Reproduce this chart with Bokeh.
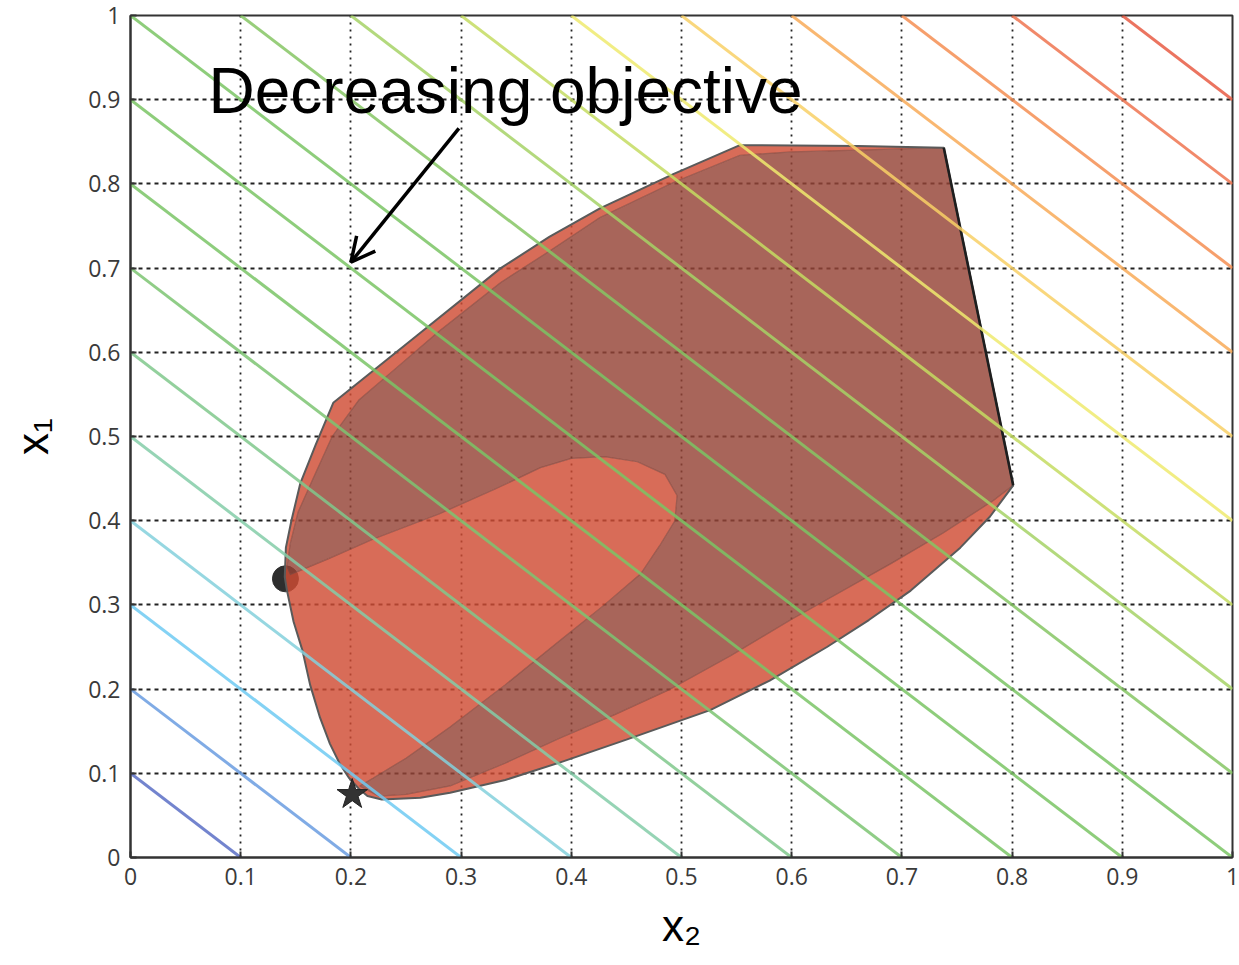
from bokeh.plotting import figure
from bokeh.models import Range1d, FixedTicker, Arrow, OpenHead
from bokeh.core.properties import value
from bokeh.embed import file_html
from bokeh.resources import INLINE

# ---- data ----
tick_values = [0.0, 0.1, 0.2, 0.3, 0.4, 0.5, 0.6, 0.7, 0.8, 0.9, 1.0]
tick_labels = ["0", "0.1", "0.2", "0.3", "0.4", "0.5", "0.6", "0.7", "0.8", "0.9", "1"]
x_label = "x₂"
y_label = "x₁"

# objective contour levels (x1 + x2 = c) and their colours
levels = [0.1, 0.2, 0.3, 0.4, 0.5, 0.6, 0.7, 0.8, 0.9, 1.0,
          1.1, 1.2, 1.3, 1.4, 1.5, 1.6, 1.7, 1.8, 1.9]
level_colors = ["#5a6ec6", "#6a9ce0", "#6ecaf2", "#84d0dc", "#84cca8", "#80c88c",
                "#7cc472", "#7ac466", "#7ac464", "#7ac464", "#86c664", "#a6d266",
                "#c4dc62", "#eeea6e", "#f8d066", "#f8aa58", "#f58e52", "#ef7450",
                "#e85c44"]

# outer feasible-region boundary (x2, x1), from optimum point going up & round
upper_outer_x = [0.140, 0.141, 0.146, 0.154, 0.168, 0.184, 0.260, 0.336, 0.380, 0.426, 0.493, 0.553, 0.660, 0.738]
upper_outer_y = [0.333, 0.368, 0.400, 0.444, 0.490, 0.540, 0.620, 0.700, 0.737, 0.771, 0.812, 0.846, 0.845, 0.843]
corner_x = [0.801]
corner_y = [0.442]
lower_outer_x = [0.780, 0.753, 0.708, 0.670, 0.632, 0.580, 0.526, 0.450, 0.390, 0.340, 0.290, 0.263, 0.228, 0.215, 0.207]
lower_outer_y = [0.405, 0.368, 0.317, 0.282, 0.250, 0.210, 0.175, 0.140, 0.113, 0.092, 0.077, 0.071, 0.069, 0.073, 0.082]
left_outer_x = [0.198, 0.190, 0.181, 0.172, 0.163, 0.156, 0.148, 0.142]
left_outer_y = [0.095, 0.111, 0.135, 0.166, 0.205, 0.246, 0.280, 0.317]

# darker inner region boundary
dark_upper_x = [0.142, 0.145, 0.152, 0.165, 0.183, 0.207, 0.240, 0.280, 0.336, 0.380, 0.426, 0.493, 0.553, 0.600, 0.660, 0.738, 0.801]
dark_upper_y = [0.345, 0.373, 0.410, 0.448, 0.500, 0.543, 0.580, 0.625, 0.683, 0.720, 0.760, 0.802, 0.834, 0.838, 0.840, 0.843, 0.442]
dark_lower_x = [0.783, 0.737, 0.690, 0.645, 0.600, 0.545, 0.490, 0.440, 0.390, 0.340, 0.290, 0.250, 0.225, 0.208]
dark_lower_y = [0.424, 0.385, 0.349, 0.316, 0.283, 0.240, 0.200, 0.170, 0.142, 0.112, 0.085, 0.075, 0.073, 0.085]
# inner (lighter) lobe boundary, from star back up to optimum point
lobe_x = [0.220, 0.250, 0.290, 0.340, 0.390, 0.430, 0.463, 0.480, 0.494, 0.496, 0.485, 0.460, 0.430, 0.400, 0.372, 0.330, 0.280, 0.220, 0.180, 0.145]
lobe_y = [0.094, 0.118, 0.155, 0.205, 0.258, 0.300, 0.337, 0.370, 0.400, 0.430, 0.455, 0.470, 0.476, 0.474, 0.463, 0.437, 0.408, 0.378, 0.355, 0.336]

opt_x = [0.1406]
opt_y = [0.331]
star_x = [0.2012]
star_y = [0.0748]

note_text = ["Decreasing objective"]
note_x = [0.0708]
note_y = [0.910]
arrow_start = (0.298, 0.866)
arrow_end = (0.200, 0.707)

# ---- figure ----
p = figure(width=1239, height=965, output_backend="svg", toolbar_location=None,
           x_range=Range1d(0, 1), y_range=Range1d(0, 1),
           min_border_left=130, min_border_right=7, min_border_top=15, min_border_bottom=108)
p.background_fill_color = "white"
p.border_fill_color = "white"
p.outline_line_color = "#333333"
p.outline_line_width = 2

for ax in (p.xaxis[0], p.yaxis[0]):
    ax.ticker = FixedTicker(ticks=tick_values)
    ax.major_label_overrides = {t: l for t, l in zip(tick_values, tick_labels)}
    ax.minor_tick_line_color = None
    ax.major_tick_in = 6
    ax.major_tick_out = 0
    ax.major_tick_line_color = "#333333"
    ax.major_tick_line_width = 2
    ax.axis_line_color = "#333333"
    ax.axis_line_width = 2
    ax.major_label_text_font = "Open Sans"
    ax.major_label_text_font_size = "23px"
    ax.major_label_text_color = "#3a3a3a"
    ax.major_label_standoff = 10
    ax.axis_label_text_font = "Liberation Sans"
    ax.axis_label_text_font_size = "44px"
    ax.axis_label_text_font_style = "normal"
    ax.axis_label_text_color = "black"

p.xaxis[0].axis_label = x_label
p.yaxis[0].axis_label = y_label
p.xaxis[0].axis_label_standoff = 13
p.yaxis[0].axis_label_standoff = 28

p.xgrid.ticker = FixedTicker(ticks=tick_values)
p.ygrid.ticker = FixedTicker(ticks=tick_values)
p.xgrid.grid_line_color = "#222222"
p.ygrid.grid_line_color = "#222222"
p.xgrid.grid_line_dash = "2 5"
p.ygrid.grid_line_dash = "4 4"
p.xgrid.grid_line_width = 1.8
p.ygrid.grid_line_width = 1.8

# optimum circle (partly under the region)
p.scatter(opt_x, opt_y, marker="circle", size=26, fill_color="#2e2e2e", line_color="#2e2e2e")

# regions
a = 0.82
outer_x = upper_outer_x + corner_x + lower_outer_x + left_outer_x
outer_y = upper_outer_y + corner_y + lower_outer_y + left_outer_y
dark_x = dark_upper_x + dark_lower_x + lobe_x
dark_y = dark_upper_y + dark_lower_y + lobe_y

p.multi_polygons(xs=[[[outer_x, dark_x]]], ys=[[[outer_y, dark_y]]],
                 fill_color="#cf4c33", fill_alpha=a, line_color=None)
p.patch(dark_x, dark_y, fill_color="#954336", fill_alpha=a,
        line_color="#8a4a40", line_alpha=0.7, line_width=1.2)
p.patch(outer_x, outer_y, fill_color=None, line_color="#5a5a5a", line_width=2)
p.line([upper_outer_x[-1], corner_x[0]], [upper_outer_y[-1], corner_y[0]],
       line_color="#1e1e1e", line_width=2.6)

# objective contour lines x1 + x2 = c
cxs, cys = [], []
for c in levels:
    if c <= 1:
        cxs.append([0.0, c]); cys.append([c, 0.0])
    else:
        cxs.append([c - 1, 1.0]); cys.append([1.0, c - 1])
p.multi_line(cxs, cys, line_color=level_colors, line_width=3, line_alpha=0.85)

# star
p.scatter(star_x, star_y, marker="star", size=32, fill_color="#333333", line_color="#222222", line_width=1)

# annotation text and arrow
p.text(note_x, note_y, text=note_text, text_font=value("Liberation Sans"),
       text_font_size="64px", text_color="black", text_baseline="alphabetic", text_align="left")
p.add_layout(Arrow(end=OpenHead(size=24, line_width=3.5, line_color="black"),
                   x_start=arrow_start[0], y_start=arrow_start[1],
                   x_end=arrow_end[0], y_end=arrow_end[1],
                   line_width=3.5, line_color="black"))

open("out.html", "w").write(file_html(p, INLINE))
